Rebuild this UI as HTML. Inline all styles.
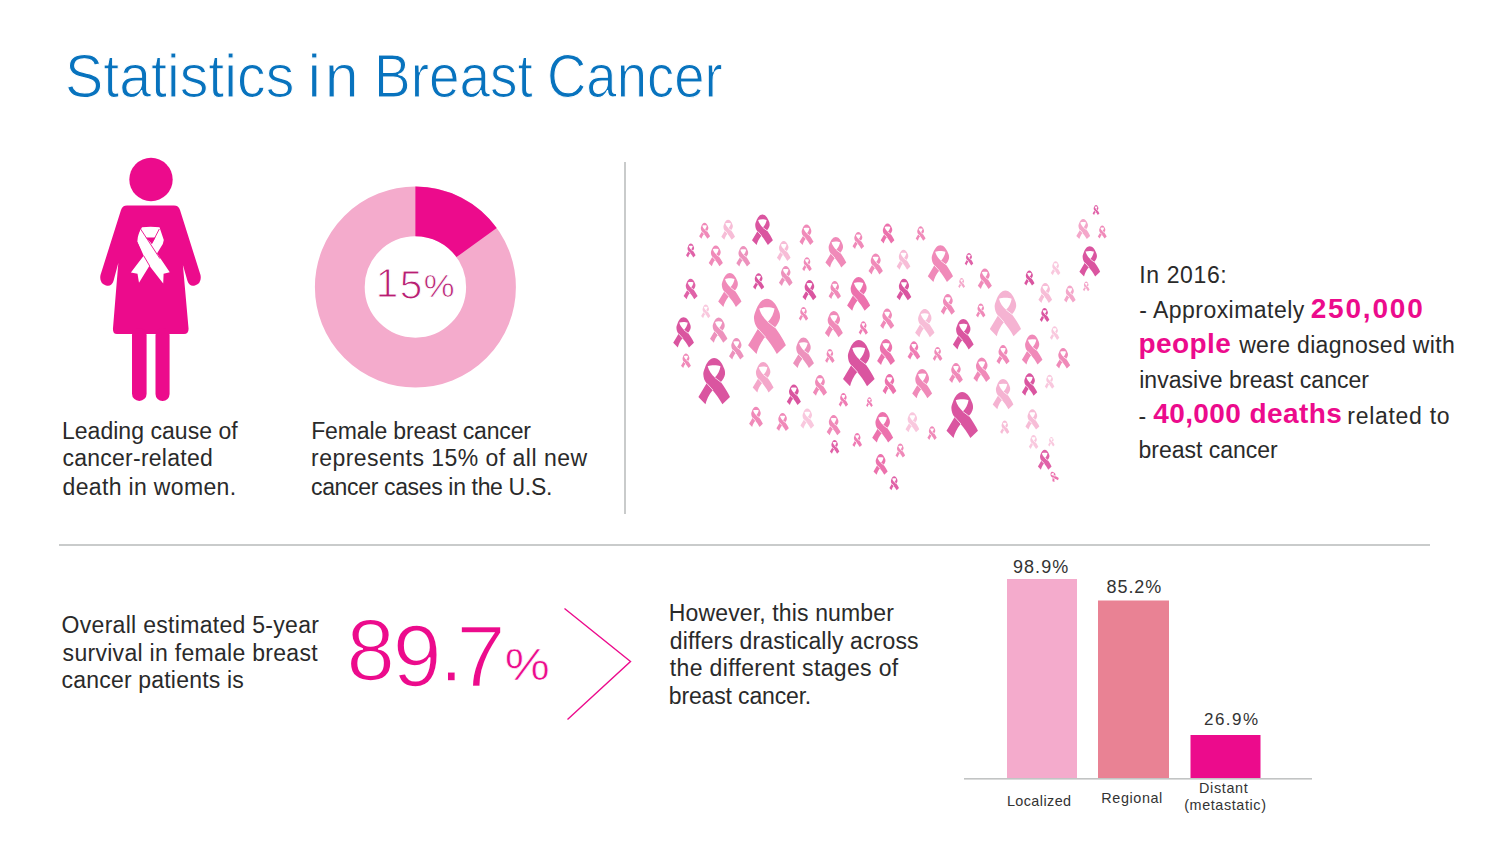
<!DOCTYPE html>
<html><head><meta charset="utf-8">
<style>
*{margin:0;padding:0;box-sizing:border-box}
html,body{width:1500px;height:847px;background:#fff;overflow:hidden}
body{position:relative;font-family:"Liberation Sans",sans-serif;color:#2a2a2a}
.t{position:absolute;white-space:nowrap}
.pk{color:#ec0b8c;font-weight:bold}
.hl{position:absolute;background:#c9cbcb}
.ln{position:absolute;white-space:nowrap;color:#2a2a2a}
b.pk{font-size:27px;line-height:0}
.g{position:absolute;white-space:nowrap}
.th1{-webkit-text-stroke:1.6px #fff}
.th2{-webkit-text-stroke:1.1px #fff}
.th3{-webkit-text-stroke:0.6px #fff}
</style></head><body>
<svg style="position:absolute;left:0;top:0" width="1500" height="847" viewBox="0 0 1500 847">
 <circle cx="151" cy="179.5" r="21.7" fill="#ec0b8c"/>
 <path fill="#ec0b8c" d="M127,205.6L174,205.6Q178.5,205.6 180,210L200.5,275Q202,283 195,285.5Q189.5,287 187.5,281L182.9,264.9L188.5,328Q189,334 184,334L117,334Q112.5,334 113,328L118.3,263.1L113.5,281Q111.5,287 106,285.5Q99,283 100.5,275L121,210Q122.5,205.6 127,205.6Z"/>
 <rect x="132" y="328" width="14.6" height="73" rx="7.3" fill="#ec0b8c"/>
 <rect x="155.5" y="328" width="14.1" height="73" rx="7" fill="#ec0b8c"/>
 <path fill="#fff" d="M142,227.3Q150.5,226.2 159.5,227.3L163.8,240L162.8,244L139,282.8L137.5,273.8L130.9,272.4Q137,264.5 143.7,255.8L137.6,241.7Q136.8,236 142,227.3Z"/><path fill="#fff" d="M140.6,229L169.8,272.3L163.6,273.8L163.2,283.6L149.8,266.2L137.6,241.7Z"/><path fill="none" stroke="#ec0b8c" stroke-width="0.9" d="M140.6,229L160,258.7M159.3,229L151.7,243.8M143.7,255.8L149.8,266.2"/><path fill="#ec0b8c" d="M146,237.6L155.5,237.6L151.7,243.8Z"/>
 <!-- donut -->
 <circle cx="415.4" cy="287" r="75.6" fill="none" stroke="#f4abcc" stroke-width="49.8"/>
 <path d="M415.4,186.5 A100.5,100.5 0 0 1 496.7,227.9 L456.5,257.1 A50.8,50.8 0 0 0 415.4,236.2 Z" fill="#ec0b8c"/>
 <!-- chevron -->
 <polyline points="564.5,608.5 630.5,661.5 567.5,719.5" fill="none" stroke="#ec0b8c" stroke-width="1.4"/>
 <!-- bar chart -->
 <rect x="1007" y="579" width="70" height="200" fill="#f4abcc"/>
 <rect x="1098" y="600.5" width="71" height="178.5" fill="#e98294"/>
 <rect x="1190.5" y="735" width="70" height="44" fill="#ec0b8c"/>
 <rect x="964" y="778" width="348" height="1.6" fill="#c2c4c4"/>
 <g transform="translate(699.1,222.8) scale(0.1096)"><path fill="#f08ab9" fill-rule="evenodd" d="M49.7,0C37,0 27,14 21,30C17,40 15,46 15.6,52C16,62 19,72 26,79.5L0,123L22.3,146C25,134 33,116 45,101.5C55,113 66,128 76,146L100,123C94,110 82,90 71,75.5C77,70 82,62 84.2,52C85,44 84,38 80,30C74,14 63,0 49.7,0ZM29.4,25.8C40,21.5 60,21.5 70,25.8C68,38 62,52 52.1,61.7C42,52 33,40 29.4,25.8Z"/><path stroke="#fff" stroke-width="6.8" d="M52.1,61.7L72,77M26.5,80L46,101.5"/></g>
<g transform="translate(721.3,219.8) scale(0.1370)"><path fill="#f7bdd7" fill-rule="evenodd" d="M49.7,0C37,0 27,14 21,30C17,40 15,46 15.6,52C16,62 19,72 26,79.5L0,123L22.3,146C25,134 33,116 45,101.5C55,113 66,128 76,146L100,123C94,110 82,90 71,75.5C77,70 82,62 84.2,52C85,44 84,38 80,30C74,14 63,0 49.7,0ZM29.4,25.8C40,21.5 60,21.5 70,25.8C68,38 62,52 52.1,61.7C42,52 33,40 29.4,25.8Z"/><path stroke="#fff" stroke-width="5.5" d="M52.1,61.7L72,77M26.5,80L46,101.5"/></g>
<g transform="translate(752.0,214.6) scale(0.2089)"><path fill="#da55a0" fill-rule="evenodd" d="M49.7,0C37,0 27,14 21,30C17,40 15,46 15.6,52C16,62 19,72 26,79.5L0,123L22.3,146C25,134 33,116 45,101.5C55,113 66,128 76,146L100,123C94,110 82,90 71,75.5C77,70 82,62 84.2,52C85,44 84,38 80,30C74,14 63,0 49.7,0ZM29.4,25.8C40,21.5 60,21.5 70,25.8C68,38 62,52 52.1,61.7C42,52 33,40 29.4,25.8Z"/><path stroke="#fff" stroke-width="3.6" d="M52.1,61.7L72,77M26.5,80L46,101.5"/></g>
<g transform="translate(799.5,224.6) scale(0.1404)"><path fill="#f08ab9" fill-rule="evenodd" d="M49.7,0C37,0 27,14 21,30C17,40 15,46 15.6,52C16,62 19,72 26,79.5L0,123L22.3,146C25,134 33,116 45,101.5C55,113 66,128 76,146L100,123C94,110 82,90 71,75.5C77,70 82,62 84.2,52C85,44 84,38 80,30C74,14 63,0 49.7,0ZM29.4,25.8C40,21.5 60,21.5 70,25.8C68,38 62,52 52.1,61.7C42,52 33,40 29.4,25.8Z"/><path stroke="#fff" stroke-width="5.3" d="M52.1,61.7L72,77M26.5,80L46,101.5"/></g>
<g transform="translate(686.0,243.5) scale(0.0959)"><path fill="#e062a8" fill-rule="evenodd" d="M49.7,0C37,0 27,14 21,30C17,40 15,46 15.6,52C16,62 19,72 26,79.5L0,123L22.3,146C25,134 33,116 45,101.5C55,113 66,128 76,146L100,123C94,110 82,90 71,75.5C77,70 82,62 84.2,52C85,44 84,38 80,30C74,14 63,0 49.7,0ZM29.4,25.8C40,21.5 60,21.5 70,25.8C68,38 62,52 52.1,61.7C42,52 33,40 29.4,25.8Z"/><path stroke="#fff" stroke-width="7.8" d="M52.1,61.7L72,77M26.5,80L46,101.5"/></g>
<g transform="translate(708.7,245.6) scale(0.1418)"><path fill="#f08ab9" fill-rule="evenodd" d="M49.7,0C37,0 27,14 21,30C17,40 15,46 15.6,52C16,62 19,72 26,79.5L0,123L22.3,146C25,134 33,116 45,101.5C55,113 66,128 76,146L100,123C94,110 82,90 71,75.5C77,70 82,62 84.2,52C85,44 84,38 80,30C74,14 63,0 49.7,0ZM29.4,25.8C40,21.5 60,21.5 70,25.8C68,38 62,52 52.1,61.7C42,52 33,40 29.4,25.8Z"/><path stroke="#fff" stroke-width="5.3" d="M52.1,61.7L72,77M26.5,80L46,101.5"/></g>
<g transform="translate(736.3,246.1) scale(0.1404)"><path fill="#ed92bd" fill-rule="evenodd" d="M49.7,0C37,0 27,14 21,30C17,40 15,46 15.6,52C16,62 19,72 26,79.5L0,123L22.3,146C25,134 33,116 45,101.5C55,113 66,128 76,146L100,123C94,110 82,90 71,75.5C77,70 82,62 84.2,52C85,44 84,38 80,30C74,14 63,0 49.7,0ZM29.4,25.8C40,21.5 60,21.5 70,25.8C68,38 62,52 52.1,61.7C42,52 33,40 29.4,25.8Z"/><path stroke="#fff" stroke-width="5.3" d="M52.1,61.7L72,77M26.5,80L46,101.5"/></g>
<g transform="translate(776.9,240.9) scale(0.1370)"><path fill="#f7bdd7" fill-rule="evenodd" d="M49.7,0C37,0 27,14 21,30C17,40 15,46 15.6,52C16,62 19,72 26,79.5L0,123L22.3,146C25,134 33,116 45,101.5C55,113 66,128 76,146L100,123C94,110 82,90 71,75.5C77,70 82,62 84.2,52C85,44 84,38 80,30C74,14 63,0 49.7,0ZM29.4,25.8C40,21.5 60,21.5 70,25.8C68,38 62,52 52.1,61.7C42,52 33,40 29.4,25.8Z"/><path stroke="#fff" stroke-width="5.5" d="M52.1,61.7L72,77M26.5,80L46,101.5"/></g>
<g transform="translate(802.2,257.2) scale(0.0959)"><path fill="#f08ab9" fill-rule="evenodd" d="M49.7,0C37,0 27,14 21,30C17,40 15,46 15.6,52C16,62 19,72 26,79.5L0,123L22.3,146C25,134 33,116 45,101.5C55,113 66,128 76,146L100,123C94,110 82,90 71,75.5C77,70 82,62 84.2,52C85,44 84,38 80,30C74,14 63,0 49.7,0ZM29.4,25.8C40,21.5 60,21.5 70,25.8C68,38 62,52 52.1,61.7C42,52 33,40 29.4,25.8Z"/><path stroke="#fff" stroke-width="7.8" d="M52.1,61.7L72,77M26.5,80L46,101.5"/></g>
<g transform="translate(825.4,236.9) scale(0.2089)"><path fill="#f08ab9" fill-rule="evenodd" d="M49.7,0C37,0 27,14 21,30C17,40 15,46 15.6,52C16,62 19,72 26,79.5L0,123L22.3,146C25,134 33,116 45,101.5C55,113 66,128 76,146L100,123C94,110 82,90 71,75.5C77,70 82,62 84.2,52C85,44 84,38 80,30C74,14 63,0 49.7,0ZM29.4,25.8C40,21.5 60,21.5 70,25.8C68,38 62,52 52.1,61.7C42,52 33,40 29.4,25.8Z"/><path stroke="#fff" stroke-width="3.6" d="M52.1,61.7L72,77M26.5,80L46,101.5"/></g>
<g transform="translate(852.5,231.9) scale(0.1164)"><path fill="#f08ab9" fill-rule="evenodd" d="M49.7,0C37,0 27,14 21,30C17,40 15,46 15.6,52C16,62 19,72 26,79.5L0,123L22.3,146C25,134 33,116 45,101.5C55,113 66,128 76,146L100,123C94,110 82,90 71,75.5C77,70 82,62 84.2,52C85,44 84,38 80,30C74,14 63,0 49.7,0ZM29.4,25.8C40,21.5 60,21.5 70,25.8C68,38 62,52 52.1,61.7C42,52 33,40 29.4,25.8Z"/><path stroke="#fff" stroke-width="6.4" d="M52.1,61.7L72,77M26.5,80L46,101.5"/></g>
<g transform="translate(880.7,223.4) scale(0.1370)"><path fill="#ec72ad" fill-rule="evenodd" d="M49.7,0C37,0 27,14 21,30C17,40 15,46 15.6,52C16,62 19,72 26,79.5L0,123L22.3,146C25,134 33,116 45,101.5C55,113 66,128 76,146L100,123C94,110 82,90 71,75.5C77,70 82,62 84.2,52C85,44 84,38 80,30C74,14 63,0 49.7,0ZM29.4,25.8C40,21.5 60,21.5 70,25.8C68,38 62,52 52.1,61.7C42,52 33,40 29.4,25.8Z"/><path stroke="#fff" stroke-width="5.5" d="M52.1,61.7L72,77M26.5,80L46,101.5"/></g>
<g transform="translate(915.7,226.3) scale(0.0986)"><path fill="#f08ab9" fill-rule="evenodd" d="M49.7,0C37,0 27,14 21,30C17,40 15,46 15.6,52C16,62 19,72 26,79.5L0,123L22.3,146C25,134 33,116 45,101.5C55,113 66,128 76,146L100,123C94,110 82,90 71,75.5C77,70 82,62 84.2,52C85,44 84,38 80,30C74,14 63,0 49.7,0ZM29.4,25.8C40,21.5 60,21.5 70,25.8C68,38 62,52 52.1,61.7C42,52 33,40 29.4,25.8Z"/><path stroke="#fff" stroke-width="7.6" d="M52.1,61.7L72,77M26.5,80L46,101.5"/></g>
<g transform="translate(868.5,253.4) scale(0.1438)"><path fill="#f08ab9" fill-rule="evenodd" d="M49.7,0C37,0 27,14 21,30C17,40 15,46 15.6,52C16,62 19,72 26,79.5L0,123L22.3,146C25,134 33,116 45,101.5C55,113 66,128 76,146L100,123C94,110 82,90 71,75.5C77,70 82,62 84.2,52C85,44 84,38 80,30C74,14 63,0 49.7,0ZM29.4,25.8C40,21.5 60,21.5 70,25.8C68,38 62,52 52.1,61.7C42,52 33,40 29.4,25.8Z"/><path stroke="#fff" stroke-width="5.2" d="M52.1,61.7L72,77M26.5,80L46,101.5"/></g>
<g transform="translate(896.7,249.7) scale(0.1370)"><path fill="#f7bdd7" fill-rule="evenodd" d="M49.7,0C37,0 27,14 21,30C17,40 15,46 15.6,52C16,62 19,72 26,79.5L0,123L22.3,146C25,134 33,116 45,101.5C55,113 66,128 76,146L100,123C94,110 82,90 71,75.5C77,70 82,62 84.2,52C85,44 84,38 80,30C74,14 63,0 49.7,0ZM29.4,25.8C40,21.5 60,21.5 70,25.8C68,38 62,52 52.1,61.7C42,52 33,40 29.4,25.8Z"/><path stroke="#fff" stroke-width="5.5" d="M52.1,61.7L72,77M26.5,80L46,101.5"/></g>
<g transform="translate(927.8,245.2) scale(0.2521)"><path fill="#f08ab9" fill-rule="evenodd" d="M49.7,0C37,0 27,14 21,30C17,40 15,46 15.6,52C16,62 19,72 26,79.5L0,123L22.3,146C25,134 33,116 45,101.5C55,113 66,128 76,146L100,123C94,110 82,90 71,75.5C77,70 82,62 84.2,52C85,44 84,38 80,30C74,14 63,0 49.7,0ZM29.4,25.8C40,21.5 60,21.5 70,25.8C68,38 62,52 52.1,61.7C42,52 33,40 29.4,25.8Z"/><path stroke="#fff" stroke-width="3.0" d="M52.1,61.7L72,77M26.5,80L46,101.5"/></g>
<g transform="translate(1092.6,205.0) scale(0.0685)"><path fill="#e062a8" fill-rule="evenodd" d="M49.7,0C37,0 27,14 21,30C17,40 15,46 15.6,52C16,62 19,72 26,79.5L0,123L22.3,146C25,134 33,116 45,101.5C55,113 66,128 76,146L100,123C94,110 82,90 71,75.5C77,70 82,62 84.2,52C85,44 84,38 80,30C74,14 63,0 49.7,0ZM29.4,25.8C40,21.5 60,21.5 70,25.8C68,38 62,52 52.1,61.7C42,52 33,40 29.4,25.8Z"/><path stroke="#fff" stroke-width="11.0" d="M52.1,61.7L72,77M26.5,80L46,101.5"/></g>
<g transform="translate(1076.3,218.9) scale(0.1384)"><path fill="#f4a7ca" fill-rule="evenodd" d="M49.7,0C37,0 27,14 21,30C17,40 15,46 15.6,52C16,62 19,72 26,79.5L0,123L22.3,146C25,134 33,116 45,101.5C55,113 66,128 76,146L100,123C94,110 82,90 71,75.5C77,70 82,62 84.2,52C85,44 84,38 80,30C74,14 63,0 49.7,0ZM29.4,25.8C40,21.5 60,21.5 70,25.8C68,38 62,52 52.1,61.7C42,52 33,40 29.4,25.8Z"/><path stroke="#fff" stroke-width="5.4" d="M52.1,61.7L72,77M26.5,80L46,101.5"/></g>
<g transform="translate(1097.8,225.6) scale(0.0890)"><path fill="#f08ab9" fill-rule="evenodd" d="M49.7,0C37,0 27,14 21,30C17,40 15,46 15.6,52C16,62 19,72 26,79.5L0,123L22.3,146C25,134 33,116 45,101.5C55,113 66,128 76,146L100,123C94,110 82,90 71,75.5C77,70 82,62 84.2,52C85,44 84,38 80,30C74,14 63,0 49.7,0ZM29.4,25.8C40,21.5 60,21.5 70,25.8C68,38 62,52 52.1,61.7C42,52 33,40 29.4,25.8Z"/><path stroke="#fff" stroke-width="8.4" d="M52.1,61.7L72,77M26.5,80L46,101.5"/></g>
<g transform="translate(1079.4,246.2) scale(0.2075)"><path fill="#da55a0" fill-rule="evenodd" d="M49.7,0C37,0 27,14 21,30C17,40 15,46 15.6,52C16,62 19,72 26,79.5L0,123L22.3,146C25,134 33,116 45,101.5C55,113 66,128 76,146L100,123C94,110 82,90 71,75.5C77,70 82,62 84.2,52C85,44 84,38 80,30C74,14 63,0 49.7,0ZM29.4,25.8C40,21.5 60,21.5 70,25.8C68,38 62,52 52.1,61.7C42,52 33,40 29.4,25.8Z"/><path stroke="#fff" stroke-width="3.6" d="M52.1,61.7L72,77M26.5,80L46,101.5"/></g>
<g transform="translate(1050.8,261.2) scale(0.0959)"><path fill="#f9c8de" fill-rule="evenodd" d="M49.7,0C37,0 27,14 21,30C17,40 15,46 15.6,52C16,62 19,72 26,79.5L0,123L22.3,146C25,134 33,116 45,101.5C55,113 66,128 76,146L100,123C94,110 82,90 71,75.5C77,70 82,62 84.2,52C85,44 84,38 80,30C74,14 63,0 49.7,0ZM29.4,25.8C40,21.5 60,21.5 70,25.8C68,38 62,52 52.1,61.7C42,52 33,40 29.4,25.8Z"/><path stroke="#fff" stroke-width="7.8" d="M52.1,61.7L72,77M26.5,80L46,101.5"/></g>
<g transform="translate(964.7,252.9) scale(0.0856)"><path fill="#e062a8" fill-rule="evenodd" d="M49.7,0C37,0 27,14 21,30C17,40 15,46 15.6,52C16,62 19,72 26,79.5L0,123L22.3,146C25,134 33,116 45,101.5C55,113 66,128 76,146L100,123C94,110 82,90 71,75.5C77,70 82,62 84.2,52C85,44 84,38 80,30C74,14 63,0 49.7,0ZM29.4,25.8C40,21.5 60,21.5 70,25.8C68,38 62,52 52.1,61.7C42,52 33,40 29.4,25.8Z"/><path stroke="#fff" stroke-width="8.8" d="M52.1,61.7L72,77M26.5,80L46,101.5"/></g>
<g transform="translate(977.8,268.5) scale(0.1411)"><path fill="#f08ab9" fill-rule="evenodd" d="M49.7,0C37,0 27,14 21,30C17,40 15,46 15.6,52C16,62 19,72 26,79.5L0,123L22.3,146C25,134 33,116 45,101.5C55,113 66,128 76,146L100,123C94,110 82,90 71,75.5C77,70 82,62 84.2,52C85,44 84,38 80,30C74,14 63,0 49.7,0ZM29.4,25.8C40,21.5 60,21.5 70,25.8C68,38 62,52 52.1,61.7C42,52 33,40 29.4,25.8Z"/><path stroke="#fff" stroke-width="5.3" d="M52.1,61.7L72,77M26.5,80L46,101.5"/></g>
<g transform="translate(1024.2,270.5) scale(0.1027)"><path fill="#da55a0" fill-rule="evenodd" d="M49.7,0C37,0 27,14 21,30C17,40 15,46 15.6,52C16,62 19,72 26,79.5L0,123L22.3,146C25,134 33,116 45,101.5C55,113 66,128 76,146L100,123C94,110 82,90 71,75.5C77,70 82,62 84.2,52C85,44 84,38 80,30C74,14 63,0 49.7,0ZM29.4,25.8C40,21.5 60,21.5 70,25.8C68,38 62,52 52.1,61.7C42,52 33,40 29.4,25.8Z"/><path stroke="#fff" stroke-width="7.3" d="M52.1,61.7L72,77M26.5,80L46,101.5"/></g>
<g transform="translate(683.6,278.8) scale(0.1404)"><path fill="#e062a8" fill-rule="evenodd" d="M49.7,0C37,0 27,14 21,30C17,40 15,46 15.6,52C16,62 19,72 26,79.5L0,123L22.3,146C25,134 33,116 45,101.5C55,113 66,128 76,146L100,123C94,110 82,90 71,75.5C77,70 82,62 84.2,52C85,44 84,38 80,30C74,14 63,0 49.7,0ZM29.4,25.8C40,21.5 60,21.5 70,25.8C68,38 62,52 52.1,61.7C42,52 33,40 29.4,25.8Z"/><path stroke="#fff" stroke-width="5.3" d="M52.1,61.7L72,77M26.5,80L46,101.5"/></g>
<g transform="translate(718.2,272.9) scale(0.2329)"><path fill="#f08ab9" fill-rule="evenodd" d="M49.7,0C37,0 27,14 21,30C17,40 15,46 15.6,52C16,62 19,72 26,79.5L0,123L22.3,146C25,134 33,116 45,101.5C55,113 66,128 76,146L100,123C94,110 82,90 71,75.5C77,70 82,62 84.2,52C85,44 84,38 80,30C74,14 63,0 49.7,0ZM29.4,25.8C40,21.5 60,21.5 70,25.8C68,38 62,52 52.1,61.7C42,52 33,40 29.4,25.8Z"/><path stroke="#fff" stroke-width="3.2" d="M52.1,61.7L72,77M26.5,80L46,101.5"/></g>
<g transform="translate(753.0,273.2) scale(0.1123)"><path fill="#da55a0" fill-rule="evenodd" d="M49.7,0C37,0 27,14 21,30C17,40 15,46 15.6,52C16,62 19,72 26,79.5L0,123L22.3,146C25,134 33,116 45,101.5C55,113 66,128 76,146L100,123C94,110 82,90 71,75.5C77,70 82,62 84.2,52C85,44 84,38 80,30C74,14 63,0 49.7,0ZM29.4,25.8C40,21.5 60,21.5 70,25.8C68,38 62,52 52.1,61.7C42,52 33,40 29.4,25.8Z"/><path stroke="#fff" stroke-width="6.7" d="M52.1,61.7L72,77M26.5,80L46,101.5"/></g>
<g transform="translate(778.9,266.0) scale(0.1370)"><path fill="#ed92bd" fill-rule="evenodd" d="M49.7,0C37,0 27,14 21,30C17,40 15,46 15.6,52C16,62 19,72 26,79.5L0,123L22.3,146C25,134 33,116 45,101.5C55,113 66,128 76,146L100,123C94,110 82,90 71,75.5C77,70 82,62 84.2,52C85,44 84,38 80,30C74,14 63,0 49.7,0ZM29.4,25.8C40,21.5 60,21.5 70,25.8C68,38 62,52 52.1,61.7C42,52 33,40 29.4,25.8Z"/><path stroke="#fff" stroke-width="5.5" d="M52.1,61.7L72,77M26.5,80L46,101.5"/></g>
<g transform="translate(802.5,279.9) scale(0.1390)"><path fill="#da55a0" fill-rule="evenodd" d="M49.7,0C37,0 27,14 21,30C17,40 15,46 15.6,52C16,62 19,72 26,79.5L0,123L22.3,146C25,134 33,116 45,101.5C55,113 66,128 76,146L100,123C94,110 82,90 71,75.5C77,70 82,62 84.2,52C85,44 84,38 80,30C74,14 63,0 49.7,0ZM29.4,25.8C40,21.5 60,21.5 70,25.8C68,38 62,52 52.1,61.7C42,52 33,40 29.4,25.8Z"/><path stroke="#fff" stroke-width="5.4" d="M52.1,61.7L72,77M26.5,80L46,101.5"/></g>
<g transform="translate(701.1,304.6) scale(0.0932)"><path fill="#f9c8de" fill-rule="evenodd" d="M49.7,0C37,0 27,14 21,30C17,40 15,46 15.6,52C16,62 19,72 26,79.5L0,123L22.3,146C25,134 33,116 45,101.5C55,113 66,128 76,146L100,123C94,110 82,90 71,75.5C77,70 82,62 84.2,52C85,44 84,38 80,30C74,14 63,0 49.7,0ZM29.4,25.8C40,21.5 60,21.5 70,25.8C68,38 62,52 52.1,61.7C42,52 33,40 29.4,25.8Z"/><path stroke="#fff" stroke-width="8.1" d="M52.1,61.7L72,77M26.5,80L46,101.5"/></g>
<g transform="translate(673.2,317.2) scale(0.2075)"><path fill="#da55a0" fill-rule="evenodd" d="M49.7,0C37,0 27,14 21,30C17,40 15,46 15.6,52C16,62 19,72 26,79.5L0,123L22.3,146C25,134 33,116 45,101.5C55,113 66,128 76,146L100,123C94,110 82,90 71,75.5C77,70 82,62 84.2,52C85,44 84,38 80,30C74,14 63,0 49.7,0ZM29.4,25.8C40,21.5 60,21.5 70,25.8C68,38 62,52 52.1,61.7C42,52 33,40 29.4,25.8Z"/><path stroke="#fff" stroke-width="3.6" d="M52.1,61.7L72,77M26.5,80L46,101.5"/></g>
<g transform="translate(710.0,317.4) scale(0.1740)"><path fill="#ed92bd" fill-rule="evenodd" d="M49.7,0C37,0 27,14 21,30C17,40 15,46 15.6,52C16,62 19,72 26,79.5L0,123L22.3,146C25,134 33,116 45,101.5C55,113 66,128 76,146L100,123C94,110 82,90 71,75.5C77,70 82,62 84.2,52C85,44 84,38 80,30C74,14 63,0 49.7,0ZM29.4,25.8C40,21.5 60,21.5 70,25.8C68,38 62,52 52.1,61.7C42,52 33,40 29.4,25.8Z"/><path stroke="#fff" stroke-width="4.3" d="M52.1,61.7L72,77M26.5,80L46,101.5"/></g>
<g transform="translate(748.1,298.7) scale(0.3781)"><path fill="#f08ab9" fill-rule="evenodd" d="M49.7,0C37,0 27,14 21,30C17,40 15,46 15.6,52C16,62 19,72 26,79.5L0,123L22.3,146C25,134 33,116 45,101.5C55,113 66,128 76,146L100,123C94,110 82,90 71,75.5C77,70 82,62 84.2,52C85,44 84,38 80,30C74,14 63,0 49.7,0ZM29.4,25.8C40,21.5 60,21.5 70,25.8C68,38 62,52 52.1,61.7C42,52 33,40 29.4,25.8Z"/><path stroke="#fff" stroke-width="2.0" d="M52.1,61.7L72,77M26.5,80L46,101.5"/></g>
<g transform="translate(798.8,307.0) scale(0.0938)"><path fill="#f08ab9" fill-rule="evenodd" d="M49.7,0C37,0 27,14 21,30C17,40 15,46 15.6,52C16,62 19,72 26,79.5L0,123L22.3,146C25,134 33,116 45,101.5C55,113 66,128 76,146L100,123C94,110 82,90 71,75.5C77,70 82,62 84.2,52C85,44 84,38 80,30C74,14 63,0 49.7,0ZM29.4,25.8C40,21.5 60,21.5 70,25.8C68,38 62,52 52.1,61.7C42,52 33,40 29.4,25.8Z"/><path stroke="#fff" stroke-width="8.0" d="M52.1,61.7L72,77M26.5,80L46,101.5"/></g>
<g transform="translate(729.0,338.0) scale(0.1479)"><path fill="#ed92bd" fill-rule="evenodd" d="M49.7,0C37,0 27,14 21,30C17,40 15,46 15.6,52C16,62 19,72 26,79.5L0,123L22.3,146C25,134 33,116 45,101.5C55,113 66,128 76,146L100,123C94,110 82,90 71,75.5C77,70 82,62 84.2,52C85,44 84,38 80,30C74,14 63,0 49.7,0ZM29.4,25.8C40,21.5 60,21.5 70,25.8C68,38 62,52 52.1,61.7C42,52 33,40 29.4,25.8Z"/><path stroke="#fff" stroke-width="5.1" d="M52.1,61.7L72,77M26.5,80L46,101.5"/></g>
<g transform="translate(793.0,337.5) scale(0.2096)"><path fill="#ed92bd" fill-rule="evenodd" d="M49.7,0C37,0 27,14 21,30C17,40 15,46 15.6,52C16,62 19,72 26,79.5L0,123L22.3,146C25,134 33,116 45,101.5C55,113 66,128 76,146L100,123C94,110 82,90 71,75.5C77,70 82,62 84.2,52C85,44 84,38 80,30C74,14 63,0 49.7,0ZM29.4,25.8C40,21.5 60,21.5 70,25.8C68,38 62,52 52.1,61.7C42,52 33,40 29.4,25.8Z"/><path stroke="#fff" stroke-width="3.6" d="M52.1,61.7L72,77M26.5,80L46,101.5"/></g>
<g transform="translate(828.6,281.0) scale(0.1233)"><path fill="#f08ab9" fill-rule="evenodd" d="M49.7,0C37,0 27,14 21,30C17,40 15,46 15.6,52C16,62 19,72 26,79.5L0,123L22.3,146C25,134 33,116 45,101.5C55,113 66,128 76,146L100,123C94,110 82,90 71,75.5C77,70 82,62 84.2,52C85,44 84,38 80,30C74,14 63,0 49.7,0ZM29.4,25.8C40,21.5 60,21.5 70,25.8C68,38 62,52 52.1,61.7C42,52 33,40 29.4,25.8Z"/><path stroke="#fff" stroke-width="6.1" d="M52.1,61.7L72,77M26.5,80L46,101.5"/></g>
<g transform="translate(847.1,277.0) scale(0.2308)"><path fill="#ec72ad" fill-rule="evenodd" d="M49.7,0C37,0 27,14 21,30C17,40 15,46 15.6,52C16,62 19,72 26,79.5L0,123L22.3,146C25,134 33,116 45,101.5C55,113 66,128 76,146L100,123C94,110 82,90 71,75.5C77,70 82,62 84.2,52C85,44 84,38 80,30C74,14 63,0 49.7,0ZM29.4,25.8C40,21.5 60,21.5 70,25.8C68,38 62,52 52.1,61.7C42,52 33,40 29.4,25.8Z"/><path stroke="#fff" stroke-width="3.2" d="M52.1,61.7L72,77M26.5,80L46,101.5"/></g>
<g transform="translate(896.6,278.8) scale(0.1473)"><path fill="#da55a0" fill-rule="evenodd" d="M49.7,0C37,0 27,14 21,30C17,40 15,46 15.6,52C16,62 19,72 26,79.5L0,123L22.3,146C25,134 33,116 45,101.5C55,113 66,128 76,146L100,123C94,110 82,90 71,75.5C77,70 82,62 84.2,52C85,44 84,38 80,30C74,14 63,0 49.7,0ZM29.4,25.8C40,21.5 60,21.5 70,25.8C68,38 62,52 52.1,61.7C42,52 33,40 29.4,25.8Z"/><path stroke="#fff" stroke-width="5.1" d="M52.1,61.7L72,77M26.5,80L46,101.5"/></g>
<g transform="translate(824.9,311.0) scale(0.1795)"><path fill="#f08ab9" fill-rule="evenodd" d="M49.7,0C37,0 27,14 21,30C17,40 15,46 15.6,52C16,62 19,72 26,79.5L0,123L22.3,146C25,134 33,116 45,101.5C55,113 66,128 76,146L100,123C94,110 82,90 71,75.5C77,70 82,62 84.2,52C85,44 84,38 80,30C74,14 63,0 49.7,0ZM29.4,25.8C40,21.5 60,21.5 70,25.8C68,38 62,52 52.1,61.7C42,52 33,40 29.4,25.8Z"/><path stroke="#fff" stroke-width="4.2" d="M52.1,61.7L72,77M26.5,80L46,101.5"/></g>
<g transform="translate(858.7,321.2) scale(0.0925)"><path fill="#ef7cb4" fill-rule="evenodd" d="M49.7,0C37,0 27,14 21,30C17,40 15,46 15.6,52C16,62 19,72 26,79.5L0,123L22.3,146C25,134 33,116 45,101.5C55,113 66,128 76,146L100,123C94,110 82,90 71,75.5C77,70 82,62 84.2,52C85,44 84,38 80,30C74,14 63,0 49.7,0ZM29.4,25.8C40,21.5 60,21.5 70,25.8C68,38 62,52 52.1,61.7C42,52 33,40 29.4,25.8Z"/><path stroke="#fff" stroke-width="8.1" d="M52.1,61.7L72,77M26.5,80L46,101.5"/></g>
<g transform="translate(880.2,308.6) scale(0.1397)"><path fill="#f08ab9" fill-rule="evenodd" d="M49.7,0C37,0 27,14 21,30C17,40 15,46 15.6,52C16,62 19,72 26,79.5L0,123L22.3,146C25,134 33,116 45,101.5C55,113 66,128 76,146L100,123C94,110 82,90 71,75.5C77,70 82,62 84.2,52C85,44 84,38 80,30C74,14 63,0 49.7,0ZM29.4,25.8C40,21.5 60,21.5 70,25.8C68,38 62,52 52.1,61.7C42,52 33,40 29.4,25.8Z"/><path stroke="#fff" stroke-width="5.4" d="M52.1,61.7L72,77M26.5,80L46,101.5"/></g>
<g transform="translate(915.1,308.9) scale(0.1938)"><path fill="#f7bdd7" fill-rule="evenodd" d="M49.7,0C37,0 27,14 21,30C17,40 15,46 15.6,52C16,62 19,72 26,79.5L0,123L22.3,146C25,134 33,116 45,101.5C55,113 66,128 76,146L100,123C94,110 82,90 71,75.5C77,70 82,62 84.2,52C85,44 84,38 80,30C74,14 63,0 49.7,0ZM29.4,25.8C40,21.5 60,21.5 70,25.8C68,38 62,52 52.1,61.7C42,52 33,40 29.4,25.8Z"/><path stroke="#fff" stroke-width="3.9" d="M52.1,61.7L72,77M26.5,80L46,101.5"/></g>
<g transform="translate(958.2,278.0) scale(0.0685)"><path fill="#f4a7ca" fill-rule="evenodd" d="M49.7,0C37,0 27,14 21,30C17,40 15,46 15.6,52C16,62 19,72 26,79.5L0,123L22.3,146C25,134 33,116 45,101.5C55,113 66,128 76,146L100,123C94,110 82,90 71,75.5C77,70 82,62 84.2,52C85,44 84,38 80,30C74,14 63,0 49.7,0ZM29.4,25.8C40,21.5 60,21.5 70,25.8C68,38 62,52 52.1,61.7C42,52 33,40 29.4,25.8Z"/><path stroke="#fff" stroke-width="11.0" d="M52.1,61.7L72,77M26.5,80L46,101.5"/></g>
<g transform="translate(940.8,294.1) scale(0.1411)"><path fill="#f08ab9" fill-rule="evenodd" d="M49.7,0C37,0 27,14 21,30C17,40 15,46 15.6,52C16,62 19,72 26,79.5L0,123L22.3,146C25,134 33,116 45,101.5C55,113 66,128 76,146L100,123C94,110 82,90 71,75.5C77,70 82,62 84.2,52C85,44 84,38 80,30C74,14 63,0 49.7,0ZM29.4,25.8C40,21.5 60,21.5 70,25.8C68,38 62,52 52.1,61.7C42,52 33,40 29.4,25.8Z"/><path stroke="#fff" stroke-width="5.3" d="M52.1,61.7L72,77M26.5,80L46,101.5"/></g>
<g transform="translate(976.0,303.6) scale(0.0945)"><path fill="#f08ab9" fill-rule="evenodd" d="M49.7,0C37,0 27,14 21,30C17,40 15,46 15.6,52C16,62 19,72 26,79.5L0,123L22.3,146C25,134 33,116 45,101.5C55,113 66,128 76,146L100,123C94,110 82,90 71,75.5C77,70 82,62 84.2,52C85,44 84,38 80,30C74,14 63,0 49.7,0ZM29.4,25.8C40,21.5 60,21.5 70,25.8C68,38 62,52 52.1,61.7C42,52 33,40 29.4,25.8Z"/><path stroke="#fff" stroke-width="7.9" d="M52.1,61.7L72,77M26.5,80L46,101.5"/></g>
<g transform="translate(989.8,290.6) scale(0.3123)"><path fill="#f5b3d2" fill-rule="evenodd" d="M49.7,0C37,0 27,14 21,30C17,40 15,46 15.6,52C16,62 19,72 26,79.5L0,123L22.3,146C25,134 33,116 45,101.5C55,113 66,128 76,146L100,123C94,110 82,90 71,75.5C77,70 82,62 84.2,52C85,44 84,38 80,30C74,14 63,0 49.7,0ZM29.4,25.8C40,21.5 60,21.5 70,25.8C68,38 62,52 52.1,61.7C42,52 33,40 29.4,25.8Z"/><path stroke="#fff" stroke-width="2.4" d="M52.1,61.7L72,77M26.5,80L46,101.5"/></g>
<g transform="translate(1038.4,282.9) scale(0.1370)"><path fill="#f7bdd7" fill-rule="evenodd" d="M49.7,0C37,0 27,14 21,30C17,40 15,46 15.6,52C16,62 19,72 26,79.5L0,123L22.3,146C25,134 33,116 45,101.5C55,113 66,128 76,146L100,123C94,110 82,90 71,75.5C77,70 82,62 84.2,52C85,44 84,38 80,30C74,14 63,0 49.7,0ZM29.4,25.8C40,21.5 60,21.5 70,25.8C68,38 62,52 52.1,61.7C42,52 33,40 29.4,25.8Z"/><path stroke="#fff" stroke-width="5.5" d="M52.1,61.7L72,77M26.5,80L46,101.5"/></g>
<g transform="translate(1064.0,285.6) scale(0.1164)"><path fill="#f4a7ca" fill-rule="evenodd" d="M49.7,0C37,0 27,14 21,30C17,40 15,46 15.6,52C16,62 19,72 26,79.5L0,123L22.3,146C25,134 33,116 45,101.5C55,113 66,128 76,146L100,123C94,110 82,90 71,75.5C77,70 82,62 84.2,52C85,44 84,38 80,30C74,14 63,0 49.7,0ZM29.4,25.8C40,21.5 60,21.5 70,25.8C68,38 62,52 52.1,61.7C42,52 33,40 29.4,25.8Z"/><path stroke="#fff" stroke-width="6.4" d="M52.1,61.7L72,77M26.5,80L46,101.5"/></g>
<g transform="translate(1082.9,281.6) scale(0.0664)"><path fill="#f4a7ca" fill-rule="evenodd" d="M49.7,0C37,0 27,14 21,30C17,40 15,46 15.6,52C16,62 19,72 26,79.5L0,123L22.3,146C25,134 33,116 45,101.5C55,113 66,128 76,146L100,123C94,110 82,90 71,75.5C77,70 82,62 84.2,52C85,44 84,38 80,30C74,14 63,0 49.7,0ZM29.4,25.8C40,21.5 60,21.5 70,25.8C68,38 62,52 52.1,61.7C42,52 33,40 29.4,25.8Z"/><path stroke="#fff" stroke-width="11.3" d="M52.1,61.7L72,77M26.5,80L46,101.5"/></g>
<g transform="translate(1039.8,308.0) scale(0.0959)"><path fill="#da55a0" fill-rule="evenodd" d="M49.7,0C37,0 27,14 21,30C17,40 15,46 15.6,52C16,62 19,72 26,79.5L0,123L22.3,146C25,134 33,116 45,101.5C55,113 66,128 76,146L100,123C94,110 82,90 71,75.5C77,70 82,62 84.2,52C85,44 84,38 80,30C74,14 63,0 49.7,0ZM29.4,25.8C40,21.5 60,21.5 70,25.8C68,38 62,52 52.1,61.7C42,52 33,40 29.4,25.8Z"/><path stroke="#fff" stroke-width="7.8" d="M52.1,61.7L72,77M26.5,80L46,101.5"/></g>
<g transform="translate(952.9,319.1) scale(0.2075)"><path fill="#da55a0" fill-rule="evenodd" d="M49.7,0C37,0 27,14 21,30C17,40 15,46 15.6,52C16,62 19,72 26,79.5L0,123L22.3,146C25,134 33,116 45,101.5C55,113 66,128 76,146L100,123C94,110 82,90 71,75.5C77,70 82,62 84.2,52C85,44 84,38 80,30C74,14 63,0 49.7,0ZM29.4,25.8C40,21.5 60,21.5 70,25.8C68,38 62,52 52.1,61.7C42,52 33,40 29.4,25.8Z"/><path stroke="#fff" stroke-width="3.6" d="M52.1,61.7L72,77M26.5,80L46,101.5"/></g>
<g transform="translate(1049.9,326.2) scale(0.0945)"><path fill="#f9c8de" fill-rule="evenodd" d="M49.7,0C37,0 27,14 21,30C17,40 15,46 15.6,52C16,62 19,72 26,79.5L0,123L22.3,146C25,134 33,116 45,101.5C55,113 66,128 76,146L100,123C94,110 82,90 71,75.5C77,70 82,62 84.2,52C85,44 84,38 80,30C74,14 63,0 49.7,0ZM29.4,25.8C40,21.5 60,21.5 70,25.8C68,38 62,52 52.1,61.7C42,52 33,40 29.4,25.8Z"/><path stroke="#fff" stroke-width="7.9" d="M52.1,61.7L72,77M26.5,80L46,101.5"/></g>
<g transform="translate(681.0,353.6) scale(0.0993)"><path fill="#f08ab9" fill-rule="evenodd" d="M49.7,0C37,0 27,14 21,30C17,40 15,46 15.6,52C16,62 19,72 26,79.5L0,123L22.3,146C25,134 33,116 45,101.5C55,113 66,128 76,146L100,123C94,110 82,90 71,75.5C77,70 82,62 84.2,52C85,44 84,38 80,30C74,14 63,0 49.7,0ZM29.4,25.8C40,21.5 60,21.5 70,25.8C68,38 62,52 52.1,61.7C42,52 33,40 29.4,25.8Z"/><path stroke="#fff" stroke-width="7.6" d="M52.1,61.7L72,77M26.5,80L46,101.5"/></g>
<g transform="translate(698.4,358.1) scale(0.3158)"><path fill="#da55a0" fill-rule="evenodd" d="M49.7,0C37,0 27,14 21,30C17,40 15,46 15.6,52C16,62 19,72 26,79.5L0,123L22.3,146C25,134 33,116 45,101.5C55,113 66,128 76,146L100,123C94,110 82,90 71,75.5C77,70 82,62 84.2,52C85,44 84,38 80,30C74,14 63,0 49.7,0ZM29.4,25.8C40,21.5 60,21.5 70,25.8C68,38 62,52 52.1,61.7C42,52 33,40 29.4,25.8Z"/><path stroke="#fff" stroke-width="2.4" d="M52.1,61.7L72,77M26.5,80L46,101.5"/></g>
<g transform="translate(752.7,361.9) scale(0.2089)"><path fill="#f4a7ca" fill-rule="evenodd" d="M49.7,0C37,0 27,14 21,30C17,40 15,46 15.6,52C16,62 19,72 26,79.5L0,123L22.3,146C25,134 33,116 45,101.5C55,113 66,128 76,146L100,123C94,110 82,90 71,75.5C77,70 82,62 84.2,52C85,44 84,38 80,30C74,14 63,0 49.7,0ZM29.4,25.8C40,21.5 60,21.5 70,25.8C68,38 62,52 52.1,61.7C42,52 33,40 29.4,25.8Z"/><path stroke="#fff" stroke-width="3.6" d="M52.1,61.7L72,77M26.5,80L46,101.5"/></g>
<g transform="translate(786.8,384.4) scale(0.1411)"><path fill="#da55a0" fill-rule="evenodd" d="M49.7,0C37,0 27,14 21,30C17,40 15,46 15.6,52C16,62 19,72 26,79.5L0,123L22.3,146C25,134 33,116 45,101.5C55,113 66,128 76,146L100,123C94,110 82,90 71,75.5C77,70 82,62 84.2,52C85,44 84,38 80,30C74,14 63,0 49.7,0ZM29.4,25.8C40,21.5 60,21.5 70,25.8C68,38 62,52 52.1,61.7C42,52 33,40 29.4,25.8Z"/><path stroke="#fff" stroke-width="5.3" d="M52.1,61.7L72,77M26.5,80L46,101.5"/></g>
<g transform="translate(825.1,349.1) scale(0.0952)"><path fill="#f08ab9" fill-rule="evenodd" d="M49.7,0C37,0 27,14 21,30C17,40 15,46 15.6,52C16,62 19,72 26,79.5L0,123L22.3,146C25,134 33,116 45,101.5C55,113 66,128 76,146L100,123C94,110 82,90 71,75.5C77,70 82,62 84.2,52C85,44 84,38 80,30C74,14 63,0 49.7,0ZM29.4,25.8C40,21.5 60,21.5 70,25.8C68,38 62,52 52.1,61.7C42,52 33,40 29.4,25.8Z"/><path stroke="#fff" stroke-width="7.9" d="M52.1,61.7L72,77M26.5,80L46,101.5"/></g>
<g transform="translate(843.0,340.0) scale(0.3164)"><path fill="#da55a0" fill-rule="evenodd" d="M49.7,0C37,0 27,14 21,30C17,40 15,46 15.6,52C16,62 19,72 26,79.5L0,123L22.3,146C25,134 33,116 45,101.5C55,113 66,128 76,146L100,123C94,110 82,90 71,75.5C77,70 82,62 84.2,52C85,44 84,38 80,30C74,14 63,0 49.7,0ZM29.4,25.8C40,21.5 60,21.5 70,25.8C68,38 62,52 52.1,61.7C42,52 33,40 29.4,25.8Z"/><path stroke="#fff" stroke-width="2.4" d="M52.1,61.7L72,77M26.5,80L46,101.5"/></g>
<g transform="translate(877.1,338.9) scale(0.1788)"><path fill="#ec72ad" fill-rule="evenodd" d="M49.7,0C37,0 27,14 21,30C17,40 15,46 15.6,52C16,62 19,72 26,79.5L0,123L22.3,146C25,134 33,116 45,101.5C55,113 66,128 76,146L100,123C94,110 82,90 71,75.5C77,70 82,62 84.2,52C85,44 84,38 80,30C74,14 63,0 49.7,0ZM29.4,25.8C40,21.5 60,21.5 70,25.8C68,38 62,52 52.1,61.7C42,52 33,40 29.4,25.8Z"/><path stroke="#fff" stroke-width="4.2" d="M52.1,61.7L72,77M26.5,80L46,101.5"/></g>
<g transform="translate(907.6,341.2) scale(0.1260)"><path fill="#ef7cb4" fill-rule="evenodd" d="M49.7,0C37,0 27,14 21,30C17,40 15,46 15.6,52C16,62 19,72 26,79.5L0,123L22.3,146C25,134 33,116 45,101.5C55,113 66,128 76,146L100,123C94,110 82,90 71,75.5C77,70 82,62 84.2,52C85,44 84,38 80,30C74,14 63,0 49.7,0ZM29.4,25.8C40,21.5 60,21.5 70,25.8C68,38 62,52 52.1,61.7C42,52 33,40 29.4,25.8Z"/><path stroke="#fff" stroke-width="6.0" d="M52.1,61.7L72,77M26.5,80L46,101.5"/></g>
<g transform="translate(932.8,346.9) scale(0.0959)"><path fill="#f08ab9" fill-rule="evenodd" d="M49.7,0C37,0 27,14 21,30C17,40 15,46 15.6,52C16,62 19,72 26,79.5L0,123L22.3,146C25,134 33,116 45,101.5C55,113 66,128 76,146L100,123C94,110 82,90 71,75.5C77,70 82,62 84.2,52C85,44 84,38 80,30C74,14 63,0 49.7,0ZM29.4,25.8C40,21.5 60,21.5 70,25.8C68,38 62,52 52.1,61.7C42,52 33,40 29.4,25.8Z"/><path stroke="#fff" stroke-width="7.8" d="M52.1,61.7L72,77M26.5,80L46,101.5"/></g>
<g transform="translate(812.9,375.1) scale(0.1411)"><path fill="#f08ab9" fill-rule="evenodd" d="M49.7,0C37,0 27,14 21,30C17,40 15,46 15.6,52C16,62 19,72 26,79.5L0,123L22.3,146C25,134 33,116 45,101.5C55,113 66,128 76,146L100,123C94,110 82,90 71,75.5C77,70 82,62 84.2,52C85,44 84,38 80,30C74,14 63,0 49.7,0ZM29.4,25.8C40,21.5 60,21.5 70,25.8C68,38 62,52 52.1,61.7C42,52 33,40 29.4,25.8Z"/><path stroke="#fff" stroke-width="5.3" d="M52.1,61.7L72,77M26.5,80L46,101.5"/></g>
<g transform="translate(882.6,374.1) scale(0.1377)"><path fill="#ec72ad" fill-rule="evenodd" d="M49.7,0C37,0 27,14 21,30C17,40 15,46 15.6,52C16,62 19,72 26,79.5L0,123L22.3,146C25,134 33,116 45,101.5C55,113 66,128 76,146L100,123C94,110 82,90 71,75.5C77,70 82,62 84.2,52C85,44 84,38 80,30C74,14 63,0 49.7,0ZM29.4,25.8C40,21.5 60,21.5 70,25.8C68,38 62,52 52.1,61.7C42,52 33,40 29.4,25.8Z"/><path stroke="#fff" stroke-width="5.4" d="M52.1,61.7L72,77M26.5,80L46,101.5"/></g>
<g transform="translate(912.2,369.1) scale(0.1993)"><path fill="#f08ab9" fill-rule="evenodd" d="M49.7,0C37,0 27,14 21,30C17,40 15,46 15.6,52C16,62 19,72 26,79.5L0,123L22.3,146C25,134 33,116 45,101.5C55,113 66,128 76,146L100,123C94,110 82,90 71,75.5C77,70 82,62 84.2,52C85,44 84,38 80,30C74,14 63,0 49.7,0ZM29.4,25.8C40,21.5 60,21.5 70,25.8C68,38 62,52 52.1,61.7C42,52 33,40 29.4,25.8Z"/><path stroke="#fff" stroke-width="3.8" d="M52.1,61.7L72,77M26.5,80L46,101.5"/></g>
<g transform="translate(838.7,393.0) scale(0.0938)"><path fill="#ef7cb4" fill-rule="evenodd" d="M49.7,0C37,0 27,14 21,30C17,40 15,46 15.6,52C16,62 19,72 26,79.5L0,123L22.3,146C25,134 33,116 45,101.5C55,113 66,128 76,146L100,123C94,110 82,90 71,75.5C77,70 82,62 84.2,52C85,44 84,38 80,30C74,14 63,0 49.7,0ZM29.4,25.8C40,21.5 60,21.5 70,25.8C68,38 62,52 52.1,61.7C42,52 33,40 29.4,25.8Z"/><path stroke="#fff" stroke-width="8.0" d="M52.1,61.7L72,77M26.5,80L46,101.5"/></g>
<g transform="translate(866.1,397.2) scale(0.0671)"><path fill="#ef7cb4" fill-rule="evenodd" d="M49.7,0C37,0 27,14 21,30C17,40 15,46 15.6,52C16,62 19,72 26,79.5L0,123L22.3,146C25,134 33,116 45,101.5C55,113 66,128 76,146L100,123C94,110 82,90 71,75.5C77,70 82,62 84.2,52C85,44 84,38 80,30C74,14 63,0 49.7,0ZM29.4,25.8C40,21.5 60,21.5 70,25.8C68,38 62,52 52.1,61.7C42,52 33,40 29.4,25.8Z"/><path stroke="#fff" stroke-width="11.2" d="M52.1,61.7L72,77M26.5,80L46,101.5"/></g>
<g transform="translate(996.5,345.1) scale(0.1308)"><path fill="#f08ab9" fill-rule="evenodd" d="M49.7,0C37,0 27,14 21,30C17,40 15,46 15.6,52C16,62 19,72 26,79.5L0,123L22.3,146C25,134 33,116 45,101.5C55,113 66,128 76,146L100,123C94,110 82,90 71,75.5C77,70 82,62 84.2,52C85,44 84,38 80,30C74,14 63,0 49.7,0ZM29.4,25.8C40,21.5 60,21.5 70,25.8C68,38 62,52 52.1,61.7C42,52 33,40 29.4,25.8Z"/><path stroke="#fff" stroke-width="5.7" d="M52.1,61.7L72,77M26.5,80L46,101.5"/></g>
<g transform="translate(1056.1,348.0) scale(0.1411)"><path fill="#f08ab9" fill-rule="evenodd" d="M49.7,0C37,0 27,14 21,30C17,40 15,46 15.6,52C16,62 19,72 26,79.5L0,123L22.3,146C25,134 33,116 45,101.5C55,113 66,128 76,146L100,123C94,110 82,90 71,75.5C77,70 82,62 84.2,52C85,44 84,38 80,30C74,14 63,0 49.7,0ZM29.4,25.8C40,21.5 60,21.5 70,25.8C68,38 62,52 52.1,61.7C42,52 33,40 29.4,25.8Z"/><path stroke="#fff" stroke-width="5.3" d="M52.1,61.7L72,77M26.5,80L46,101.5"/></g>
<g transform="translate(949.1,362.9) scale(0.1377)"><path fill="#f08ab9" fill-rule="evenodd" d="M49.7,0C37,0 27,14 21,30C17,40 15,46 15.6,52C16,62 19,72 26,79.5L0,123L22.3,146C25,134 33,116 45,101.5C55,113 66,128 76,146L100,123C94,110 82,90 71,75.5C77,70 82,62 84.2,52C85,44 84,38 80,30C74,14 63,0 49.7,0ZM29.4,25.8C40,21.5 60,21.5 70,25.8C68,38 62,52 52.1,61.7C42,52 33,40 29.4,25.8Z"/><path stroke="#fff" stroke-width="5.4" d="M52.1,61.7L72,77M26.5,80L46,101.5"/></g>
<g transform="translate(973.4,357.6) scale(0.1671)"><path fill="#f08ab9" fill-rule="evenodd" d="M49.7,0C37,0 27,14 21,30C17,40 15,46 15.6,52C16,62 19,72 26,79.5L0,123L22.3,146C25,134 33,116 45,101.5C55,113 66,128 76,146L100,123C94,110 82,90 71,75.5C77,70 82,62 84.2,52C85,44 84,38 80,30C74,14 63,0 49.7,0ZM29.4,25.8C40,21.5 60,21.5 70,25.8C68,38 62,52 52.1,61.7C42,52 33,40 29.4,25.8Z"/><path stroke="#fff" stroke-width="4.5" d="M52.1,61.7L72,77M26.5,80L46,101.5"/></g>
<g transform="translate(992.7,379.0) scale(0.2068)"><path fill="#f5b3d2" fill-rule="evenodd" d="M49.7,0C37,0 27,14 21,30C17,40 15,46 15.6,52C16,62 19,72 26,79.5L0,123L22.3,146C25,134 33,116 45,101.5C55,113 66,128 76,146L100,123C94,110 82,90 71,75.5C77,70 82,62 84.2,52C85,44 84,38 80,30C74,14 63,0 49.7,0ZM29.4,25.8C40,21.5 60,21.5 70,25.8C68,38 62,52 52.1,61.7C42,52 33,40 29.4,25.8Z"/><path stroke="#fff" stroke-width="3.6" d="M52.1,61.7L72,77M26.5,80L46,101.5"/></g>
<g transform="translate(1021.9,373.3) scale(0.1534)"><path fill="#da55a0" fill-rule="evenodd" d="M49.7,0C37,0 27,14 21,30C17,40 15,46 15.6,52C16,62 19,72 26,79.5L0,123L22.3,146C25,134 33,116 45,101.5C55,113 66,128 76,146L100,123C94,110 82,90 71,75.5C77,70 82,62 84.2,52C85,44 84,38 80,30C74,14 63,0 49.7,0ZM29.4,25.8C40,21.5 60,21.5 70,25.8C68,38 62,52 52.1,61.7C42,52 33,40 29.4,25.8Z"/><path stroke="#fff" stroke-width="4.9" d="M52.1,61.7L72,77M26.5,80L46,101.5"/></g>
<g transform="translate(1044.8,374.7) scale(0.0959)"><path fill="#f9c8de" fill-rule="evenodd" d="M49.7,0C37,0 27,14 21,30C17,40 15,46 15.6,52C16,62 19,72 26,79.5L0,123L22.3,146C25,134 33,116 45,101.5C55,113 66,128 76,146L100,123C94,110 82,90 71,75.5C77,70 82,62 84.2,52C85,44 84,38 80,30C74,14 63,0 49.7,0ZM29.4,25.8C40,21.5 60,21.5 70,25.8C68,38 62,52 52.1,61.7C42,52 33,40 29.4,25.8Z"/><path stroke="#fff" stroke-width="7.8" d="M52.1,61.7L72,77M26.5,80L46,101.5"/></g>
<g transform="translate(946.5,392.1) scale(0.3144)"><path fill="#da55a0" fill-rule="evenodd" d="M49.7,0C37,0 27,14 21,30C17,40 15,46 15.6,52C16,62 19,72 26,79.5L0,123L22.3,146C25,134 33,116 45,101.5C55,113 66,128 76,146L100,123C94,110 82,90 71,75.5C77,70 82,62 84.2,52C85,44 84,38 80,30C74,14 63,0 49.7,0ZM29.4,25.8C40,21.5 60,21.5 70,25.8C68,38 62,52 52.1,61.7C42,52 33,40 29.4,25.8Z"/><path stroke="#fff" stroke-width="2.4" d="M52.1,61.7L72,77M26.5,80L46,101.5"/></g>
<g transform="translate(1021.9,334.5) scale(0.2055)"><path fill="#f08ab9" fill-rule="evenodd" d="M49.7,0C37,0 27,14 21,30C17,40 15,46 15.6,52C16,62 19,72 26,79.5L0,123L22.3,146C25,134 33,116 45,101.5C55,113 66,128 76,146L100,123C94,110 82,90 71,75.5C77,70 82,62 84.2,52C85,44 84,38 80,30C74,14 63,0 49.7,0ZM29.4,25.8C40,21.5 60,21.5 70,25.8C68,38 62,52 52.1,61.7C42,52 33,40 29.4,25.8Z"/><path stroke="#fff" stroke-width="3.7" d="M52.1,61.7L72,77M26.5,80L46,101.5"/></g>
<g transform="translate(749.1,406.8) scale(0.1377)"><path fill="#f08ab9" fill-rule="evenodd" d="M49.7,0C37,0 27,14 21,30C17,40 15,46 15.6,52C16,62 19,72 26,79.5L0,123L22.3,146C25,134 33,116 45,101.5C55,113 66,128 76,146L100,123C94,110 82,90 71,75.5C77,70 82,62 84.2,52C85,44 84,38 80,30C74,14 63,0 49.7,0ZM29.4,25.8C40,21.5 60,21.5 70,25.8C68,38 62,52 52.1,61.7C42,52 33,40 29.4,25.8Z"/><path stroke="#fff" stroke-width="5.4" d="M52.1,61.7L72,77M26.5,80L46,101.5"/></g>
<g transform="translate(776.4,412.9) scale(0.1240)"><path fill="#f08ab9" fill-rule="evenodd" d="M49.7,0C37,0 27,14 21,30C17,40 15,46 15.6,52C16,62 19,72 26,79.5L0,123L22.3,146C25,134 33,116 45,101.5C55,113 66,128 76,146L100,123C94,110 82,90 71,75.5C77,70 82,62 84.2,52C85,44 84,38 80,30C74,14 63,0 49.7,0ZM29.4,25.8C40,21.5 60,21.5 70,25.8C68,38 62,52 52.1,61.7C42,52 33,40 29.4,25.8Z"/><path stroke="#fff" stroke-width="6.0" d="M52.1,61.7L72,77M26.5,80L46,101.5"/></g>
<g transform="translate(800.4,408.6) scale(0.1377)"><path fill="#f9c8de" fill-rule="evenodd" d="M49.7,0C37,0 27,14 21,30C17,40 15,46 15.6,52C16,62 19,72 26,79.5L0,123L22.3,146C25,134 33,116 45,101.5C55,113 66,128 76,146L100,123C94,110 82,90 71,75.5C77,70 82,62 84.2,52C85,44 84,38 80,30C74,14 63,0 49.7,0ZM29.4,25.8C40,21.5 60,21.5 70,25.8C68,38 62,52 52.1,61.7C42,52 33,40 29.4,25.8Z"/><path stroke="#fff" stroke-width="5.4" d="M52.1,61.7L72,77M26.5,80L46,101.5"/></g>
<g transform="translate(826.7,414.9) scale(0.1390)"><path fill="#f08ab9" fill-rule="evenodd" d="M49.7,0C37,0 27,14 21,30C17,40 15,46 15.6,52C16,62 19,72 26,79.5L0,123L22.3,146C25,134 33,116 45,101.5C55,113 66,128 76,146L100,123C94,110 82,90 71,75.5C77,70 82,62 84.2,52C85,44 84,38 80,30C74,14 63,0 49.7,0ZM29.4,25.8C40,21.5 60,21.5 70,25.8C68,38 62,52 52.1,61.7C42,52 33,40 29.4,25.8Z"/><path stroke="#fff" stroke-width="5.4" d="M52.1,61.7L72,77M26.5,80L46,101.5"/></g>
<g transform="translate(872.2,412.0) scale(0.2096)"><path fill="#ec72ad" fill-rule="evenodd" d="M49.7,0C37,0 27,14 21,30C17,40 15,46 15.6,52C16,62 19,72 26,79.5L0,123L22.3,146C25,134 33,116 45,101.5C55,113 66,128 76,146L100,123C94,110 82,90 71,75.5C77,70 82,62 84.2,52C85,44 84,38 80,30C74,14 63,0 49.7,0ZM29.4,25.8C40,21.5 60,21.5 70,25.8C68,38 62,52 52.1,61.7C42,52 33,40 29.4,25.8Z"/><path stroke="#fff" stroke-width="3.6" d="M52.1,61.7L72,77M26.5,80L46,101.5"/></g>
<g transform="translate(905.5,412.2) scale(0.1377)"><path fill="#f9c8de" fill-rule="evenodd" d="M49.7,0C37,0 27,14 21,30C17,40 15,46 15.6,52C16,62 19,72 26,79.5L0,123L22.3,146C25,134 33,116 45,101.5C55,113 66,128 76,146L100,123C94,110 82,90 71,75.5C77,70 82,62 84.2,52C85,44 84,38 80,30C74,14 63,0 49.7,0ZM29.4,25.8C40,21.5 60,21.5 70,25.8C68,38 62,52 52.1,61.7C42,52 33,40 29.4,25.8Z"/><path stroke="#fff" stroke-width="5.4" d="M52.1,61.7L72,77M26.5,80L46,101.5"/></g>
<g transform="translate(927.4,426.3) scale(0.0932)"><path fill="#f08ab9" fill-rule="evenodd" d="M49.7,0C37,0 27,14 21,30C17,40 15,46 15.6,52C16,62 19,72 26,79.5L0,123L22.3,146C25,134 33,116 45,101.5C55,113 66,128 76,146L100,123C94,110 82,90 71,75.5C77,70 82,62 84.2,52C85,44 84,38 80,30C74,14 63,0 49.7,0ZM29.4,25.8C40,21.5 60,21.5 70,25.8C68,38 62,52 52.1,61.7C42,52 33,40 29.4,25.8Z"/><path stroke="#fff" stroke-width="8.1" d="M52.1,61.7L72,77M26.5,80L46,101.5"/></g>
<g transform="translate(829.9,439.9) scale(0.0945)"><path fill="#e062a8" fill-rule="evenodd" d="M49.7,0C37,0 27,14 21,30C17,40 15,46 15.6,52C16,62 19,72 26,79.5L0,123L22.3,146C25,134 33,116 45,101.5C55,113 66,128 76,146L100,123C94,110 82,90 71,75.5C77,70 82,62 84.2,52C85,44 84,38 80,30C74,14 63,0 49.7,0ZM29.4,25.8C40,21.5 60,21.5 70,25.8C68,38 62,52 52.1,61.7C42,52 33,40 29.4,25.8Z"/><path stroke="#fff" stroke-width="7.9" d="M52.1,61.7L72,77M26.5,80L46,101.5"/></g>
<g transform="translate(852.4,433.1) scale(0.0959)"><path fill="#ef7cb4" fill-rule="evenodd" d="M49.7,0C37,0 27,14 21,30C17,40 15,46 15.6,52C16,62 19,72 26,79.5L0,123L22.3,146C25,134 33,116 45,101.5C55,113 66,128 76,146L100,123C94,110 82,90 71,75.5C77,70 82,62 84.2,52C85,44 84,38 80,30C74,14 63,0 49.7,0ZM29.4,25.8C40,21.5 60,21.5 70,25.8C68,38 62,52 52.1,61.7C42,52 33,40 29.4,25.8Z"/><path stroke="#fff" stroke-width="7.8" d="M52.1,61.7L72,77M26.5,80L46,101.5"/></g>
<g transform="translate(895.5,443.6) scale(0.0959)"><path fill="#f08ab9" fill-rule="evenodd" d="M49.7,0C37,0 27,14 21,30C17,40 15,46 15.6,52C16,62 19,72 26,79.5L0,123L22.3,146C25,134 33,116 45,101.5C55,113 66,128 76,146L100,123C94,110 82,90 71,75.5C77,70 82,62 84.2,52C85,44 84,38 80,30C74,14 63,0 49.7,0ZM29.4,25.8C40,21.5 60,21.5 70,25.8C68,38 62,52 52.1,61.7C42,52 33,40 29.4,25.8Z"/><path stroke="#fff" stroke-width="7.8" d="M52.1,61.7L72,77M26.5,80L46,101.5"/></g>
<g transform="translate(873.5,454.0) scale(0.1418)"><path fill="#ec72ad" fill-rule="evenodd" d="M49.7,0C37,0 27,14 21,30C17,40 15,46 15.6,52C16,62 19,72 26,79.5L0,123L22.3,146C25,134 33,116 45,101.5C55,113 66,128 76,146L100,123C94,110 82,90 71,75.5C77,70 82,62 84.2,52C85,44 84,38 80,30C74,14 63,0 49.7,0ZM29.4,25.8C40,21.5 60,21.5 70,25.8C68,38 62,52 52.1,61.7C42,52 33,40 29.4,25.8Z"/><path stroke="#fff" stroke-width="5.3" d="M52.1,61.7L72,77M26.5,80L46,101.5"/></g>
<g transform="translate(889.4,476.2) scale(0.0959)"><path fill="#e062a8" fill-rule="evenodd" d="M49.7,0C37,0 27,14 21,30C17,40 15,46 15.6,52C16,62 19,72 26,79.5L0,123L22.3,146C25,134 33,116 45,101.5C55,113 66,128 76,146L100,123C94,110 82,90 71,75.5C77,70 82,62 84.2,52C85,44 84,38 80,30C74,14 63,0 49.7,0ZM29.4,25.8C40,21.5 60,21.5 70,25.8C68,38 62,52 52.1,61.7C42,52 33,40 29.4,25.8Z"/><path stroke="#fff" stroke-width="7.8" d="M52.1,61.7L72,77M26.5,80L46,101.5"/></g>
<g transform="translate(1000.1,420.6) scale(0.0925)"><path fill="#f7bdd7" fill-rule="evenodd" d="M49.7,0C37,0 27,14 21,30C17,40 15,46 15.6,52C16,62 19,72 26,79.5L0,123L22.3,146C25,134 33,116 45,101.5C55,113 66,128 76,146L100,123C94,110 82,90 71,75.5C77,70 82,62 84.2,52C85,44 84,38 80,30C74,14 63,0 49.7,0ZM29.4,25.8C40,21.5 60,21.5 70,25.8C68,38 62,52 52.1,61.7C42,52 33,40 29.4,25.8Z"/><path stroke="#fff" stroke-width="8.1" d="M52.1,61.7L72,77M26.5,80L46,101.5"/></g>
<g transform="translate(1025.4,409.2) scale(0.1397)"><path fill="#f7bdd7" fill-rule="evenodd" d="M49.7,0C37,0 27,14 21,30C17,40 15,46 15.6,52C16,62 19,72 26,79.5L0,123L22.3,146C25,134 33,116 45,101.5C55,113 66,128 76,146L100,123C94,110 82,90 71,75.5C77,70 82,62 84.2,52C85,44 84,38 80,30C74,14 63,0 49.7,0ZM29.4,25.8C40,21.5 60,21.5 70,25.8C68,38 62,52 52.1,61.7C42,52 33,40 29.4,25.8Z"/><path stroke="#fff" stroke-width="5.4" d="M52.1,61.7L72,77M26.5,80L46,101.5"/></g>
<g transform="translate(1028.8,435.1) scale(0.0952)"><path fill="#f9c8de" fill-rule="evenodd" d="M49.7,0C37,0 27,14 21,30C17,40 15,46 15.6,52C16,62 19,72 26,79.5L0,123L22.3,146C25,134 33,116 45,101.5C55,113 66,128 76,146L100,123C94,110 82,90 71,75.5C77,70 82,62 84.2,52C85,44 84,38 80,30C74,14 63,0 49.7,0ZM29.4,25.8C40,21.5 60,21.5 70,25.8C68,38 62,52 52.1,61.7C42,52 33,40 29.4,25.8Z"/><path stroke="#fff" stroke-width="7.9" d="M52.1,61.7L72,77M26.5,80L46,101.5"/></g>
<g transform="translate(1048.1,436.9) scale(0.0651)"><path fill="#f9c8de" fill-rule="evenodd" d="M49.7,0C37,0 27,14 21,30C17,40 15,46 15.6,52C16,62 19,72 26,79.5L0,123L22.3,146C25,134 33,116 45,101.5C55,113 66,128 76,146L100,123C94,110 82,90 71,75.5C77,70 82,62 84.2,52C85,44 84,38 80,30C74,14 63,0 49.7,0ZM29.4,25.8C40,21.5 60,21.5 70,25.8C68,38 62,52 52.1,61.7C42,52 33,40 29.4,25.8Z"/><path stroke="#fff" stroke-width="11.5" d="M52.1,61.7L72,77M26.5,80L46,101.5"/></g>
<g transform="translate(1037.9,449.7) scale(0.1370)"><path fill="#e062a8" fill-rule="evenodd" d="M49.7,0C37,0 27,14 21,30C17,40 15,46 15.6,52C16,62 19,72 26,79.5L0,123L22.3,146C25,134 33,116 45,101.5C55,113 66,128 76,146L100,123C94,110 82,90 71,75.5C77,70 82,62 84.2,52C85,44 84,38 80,30C74,14 63,0 49.7,0ZM29.4,25.8C40,21.5 60,21.5 70,25.8C68,38 62,52 52.1,61.7C42,52 33,40 29.4,25.8Z"/><path stroke="#fff" stroke-width="5.5" d="M52.1,61.7L72,77M26.5,80L46,101.5"/></g>
<g transform="translate(1053.9,476.5) rotate(-28.0) translate(-3.60,-5.25) scale(0.0719)"><path fill="#ec72ad" fill-rule="evenodd" d="M49.7,0C37,0 27,14 21,30C17,40 15,46 15.6,52C16,62 19,72 26,79.5L0,123L22.3,146C25,134 33,116 45,101.5C55,113 66,128 76,146L100,123C94,110 82,90 71,75.5C77,70 82,62 84.2,52C85,44 84,38 80,30C74,14 63,0 49.7,0ZM29.4,25.8C40,21.5 60,21.5 70,25.8C68,38 62,52 52.1,61.7C42,52 33,40 29.4,25.8Z"/><path stroke="#fff" stroke-width="10.4" d="M52.1,61.7L72,77M26.5,80L46,101.5"/></g>
</svg>

<div class="hl" style="left:624px;top:162px;width:2px;height:352px"></div>
<div class="hl" style="left:59px;top:544px;width:1371px;height:2px"></div>

<div class="ln" id="t1" style="left:65.00px;top:45.65px;font-size:61px;line-height:61px;transform:scaleX(0.9396);transform-origin:0 0;color:#0873be;-webkit-text-stroke:1.1px #fff">Statistics</div>
<div class="ln" id="t2" style="left:307.50px;top:45.65px;font-size:61px;line-height:61px;letter-spacing:3.600px;color:#0873be;-webkit-text-stroke:1.1px #fff">in</div>
<div class="ln" id="t3" style="left:373.60px;top:45.65px;font-size:61px;line-height:61px;transform:scaleX(0.9003);transform-origin:0 0;color:#0873be;-webkit-text-stroke:1.1px #fff">Breast</div>
<div class="ln" id="t4" style="left:546.60px;top:45.65px;font-size:61px;line-height:61px;transform:scaleX(0.8930);transform-origin:0 0;color:#0873be;-webkit-text-stroke:1.1px #fff">Cancer</div>
<div class="ln" id="a1" style="left:61.90px;top:419.53px;font-size:23px;line-height:23px;letter-spacing:0.040px;">Leading cause of</div>
<div class="ln" id="a2" style="left:62.50px;top:447.23px;font-size:23px;line-height:23px;letter-spacing:0.246px;">cancer-related</div>
<div class="ln" id="a3" style="left:62.50px;top:475.53px;font-size:23px;line-height:23px;letter-spacing:0.343px;">death in women.</div>
<div class="ln" id="b1" style="left:311.20px;top:419.53px;font-size:23px;line-height:23px;letter-spacing:-0.137px;">Female breast cancer</div>
<div class="ln" id="b2" style="left:311.00px;top:447.13px;font-size:23px;line-height:23px;letter-spacing:0.475px;">represents 15% of all new</div>
<div class="ln" id="b3" style="left:311.00px;top:475.53px;font-size:23px;line-height:23px;letter-spacing:-0.348px;">cancer cases in the U.S.</div>
<div class="ln" id="c1" style="left:1139.20px;top:264.13px;font-size:23px;line-height:23px;letter-spacing:0.629px;">In 2016:</div>
<div class="ln" id="c2a" style="left:1139.30px;top:299.43px;font-size:23px;line-height:23px;letter-spacing:0.457px;">- Approximately</div>
<div class="ln" id="c2b" style="left:1310.70px;top:295.19px;font-size:28px;line-height:28px;letter-spacing:1.800px;font-weight:bold;color:#ec0b8c">250,000</div>
<div class="ln" id="c3a" style="left:1138.40px;top:329.99px;font-size:28px;line-height:28px;letter-spacing:0.440px;font-weight:bold;color:#ec0b8c">people</div>
<div class="ln" id="c3b" style="left:1239.20px;top:334.23px;font-size:23px;line-height:23px;letter-spacing:0.322px;">were diagnosed with</div>
<div class="ln" id="c4" style="left:1139.20px;top:369.43px;font-size:23px;line-height:23px;letter-spacing:0.048px;">invasive breast cancer</div>
<div class="ln" id="c5a" style="left:1138.50px;top:404.53px;font-size:23px;line-height:23px;letter-spacing:3.200px;">-</div>
<div class="ln" id="c5b" style="left:1153.20px;top:400.29px;font-size:28px;line-height:28px;letter-spacing:0.417px;font-weight:bold;color:#ec0b8c">40,000 deaths</div>
<div class="ln" id="c5c" style="left:1347.30px;top:404.53px;font-size:23px;line-height:23px;letter-spacing:0.711px;">related to</div>
<div class="ln" id="c6" style="left:1138.50px;top:438.53px;font-size:23px;line-height:23px;letter-spacing:-0.017px;">breast cancer</div>
<div class="ln" id="d1" style="left:61.60px;top:613.53px;font-size:23px;line-height:23px;letter-spacing:0.296px;">Overall estimated 5-year</div>
<div class="ln" id="d2" style="left:62.60px;top:641.53px;font-size:23px;line-height:23px;letter-spacing:0.292px;">survival in female breast</div>
<div class="ln" id="d3" style="left:61.60px;top:668.63px;font-size:23px;line-height:23px;letter-spacing:0.188px;">cancer patients is</div>
<div class="ln" id="e1" style="left:668.80px;top:601.63px;font-size:23px;line-height:23px;letter-spacing:0.137px;">However, this number</div>
<div class="ln" id="e2" style="left:669.80px;top:629.53px;font-size:23px;line-height:23px;letter-spacing:0.152px;">differs drastically across</div>
<div class="ln" id="e3" style="left:669.80px;top:657.43px;font-size:23px;line-height:23px;letter-spacing:0.345px;">the different stages of</div>
<div class="ln" id="e4" style="left:668.80px;top:684.93px;font-size:23px;line-height:23px;letter-spacing:-0.154px;">breast cancer.</div>
<div class="ln" id="f1" style="left:1013.00px;top:558.16px;font-size:18px;line-height:18px;letter-spacing:1.050px;color:#333">98.9%</div>
<div class="ln" id="f2" style="left:1106.50px;top:577.86px;font-size:18px;line-height:18px;letter-spacing:0.950px;color:#333">85.2%</div>
<div class="ln" id="f3" style="left:1204.00px;top:710.81px;font-size:17px;line-height:17px;letter-spacing:1.450px;color:#333">26.9%</div>
<div class="ln" id="g1" style="left:1006.90px;top:794.21px;font-size:14.4px;line-height:14.4px;letter-spacing:0.425px;color:#333">Localized</div>
<div class="ln" id="g2" style="left:1101.30px;top:791.41px;font-size:14.4px;line-height:14.4px;letter-spacing:0.600px;color:#333">Regional</div>
<div class="ln" id="g3" style="left:1199.00px;top:781.11px;font-size:14.4px;line-height:14.4px;letter-spacing:0.667px;color:#333">Distant</div>
<div class="ln" id="g4" style="left:1184.20px;top:797.91px;font-size:14.4px;line-height:14.4px;letter-spacing:0.600px;color:#333">(metastatic)</div>
<div class="g th1" style="left:346.53px;top:606.68px;font-size:86.8px;line-height:86.8px;color:#ec0b8c;">8</div>
<div class="g th1" style="left:392.81px;top:613.20px;font-size:87.7px;line-height:87.7px;color:#ec0b8c;">9</div>
<div class="g th1" style="left:439.17px;top:607.38px;font-size:87px;line-height:87px;color:#ec0b8c;">.</div>
<div class="g th1" style="left:456.60px;top:612.51px;font-size:88px;line-height:88px;color:#ec0b8c;">7</div>
<div class="g th3" style="left:505.44px;top:643.47px;font-size:44px;line-height:44px;color:#ec0b8c;transform:scaleX(1.15);transform-origin:1.76px 0;">%</div>
<div class="g th2" style="left:375.75px;top:262.80px;font-size:40.6px;line-height:40.6px;color:#b81e72;">1</div>
<div class="g th2" style="left:399.68px;top:264.62px;font-size:40.6px;line-height:40.6px;color:#b81e72;">5</div>
<div class="g th3" style="left:424.06px;top:271.74px;font-size:30.9px;line-height:30.9px;color:#b81e72;transform:scaleX(1.12);transform-origin:1.24px 0;">%</div>
</body></html>
